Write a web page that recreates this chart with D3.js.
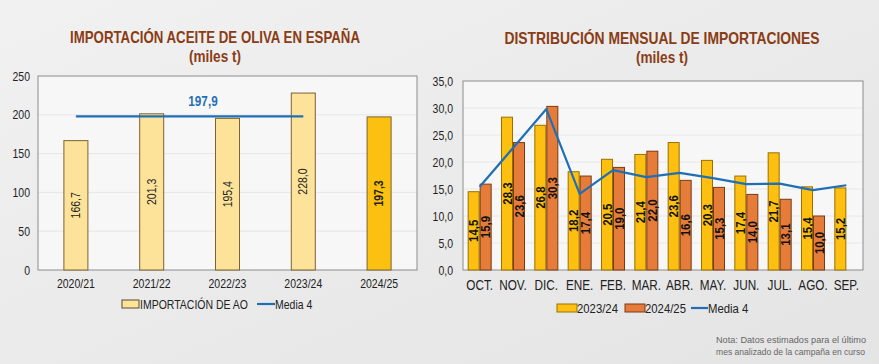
<!DOCTYPE html>
<html>
<head>
<meta charset="utf-8">
<script src="https://cdn.jsdelivr.net/npm/d3@7"></script>
<style>
  body { margin: 0; background: #ececec; }
  svg { display: block; }
  text { font-family: "Liberation Sans", Arial, sans-serif; }
</style>
</head>
<body>
<svg id="chart" width="879" height="364"></svg>
<script>
// annual imports (miles t)
var campaigns = ["2020/21", "2021/22", "2022/23", "2023/24", "2024/25"];
var annualValues = [166.7, 201.3, 195.4, 228.0, 197.3];
var annualMean = 197.9;

// monthly distribution
var months = ["OCT.", "NOV.", "DIC.", "ENE.", "FEB.", "MAR.", "ABR.", "MAY.", "JUN.", "JUL.", "AGO.", "SEP."];
var imp2324 = [14.5, 28.3, 26.8, 18.2, 20.5, 21.4, 23.6, 20.3, 17.4, 21.7, 15.4, 15.2];
var imp2425 = [15.9, 23.6, 30.3, 17.4, 19.0, 22.0, 16.6, 15.3, 14.0, 13.1, 10.0];
var media4 = [15.4, 22.6, 29.8, 14.1, 18.5, 17.2, 18.0, 17.0, 15.9, 16.0, 14.8, 15.7];

var fmt = function (v) { return d3.format(".1f")(v).replace(".", ","); };

var SX = 0.84; // horizontal squeeze to mimic a narrow font

var svg = d3.select("#chart");

// soft background
var defs = svg.append("defs");
var grad = defs.append("linearGradient").attr("id", "bg").attr("x1", 0).attr("y1", 0).attr("x2", 1).attr("y2", 1);
grad.append("stop").attr("offset", "0%").attr("stop-color", "#f1f1f1");
grad.append("stop").attr("offset", "100%").attr("stop-color", "#e4e4e4");
svg.append("rect").attr("width", 879).attr("height", 364).attr("fill", "url(#bg)");

var titleColor = "#8a3c14";
var blue = "#1f6fb6";

// narrow text helper
function label(g, x, y, str, size, anchor, extra) {
    var t = g.append("text")
        .attr("transform", "translate(" + x + "," + y + ") scale(" + SX + ",1)")
        .attr("text-anchor", anchor || "start")
        .attr("font-size", size)
        .attr("fill", "#222")
        .text(str);
    if (extra) extra(t);
    return t;
}

function squeezeTicks(axisG, size) {
    axisG.selectAll(".tick text")
        .attr("font-size", size).attr("fill", "#222")
        .style("font-family", "'Liberation Sans', Arial, sans-serif")
        .each(function () {
            var t = d3.select(this);
            var x = +t.attr("x") || 0;
            t.attr("x", x / SX).attr("transform", "scale(" + SX + ",1)");
        });
}

function title(x, y, str, len) {
    svg.append("text").attr("x", x).attr("y", y).attr("text-anchor", "middle")
        .attr("font-size", 16.5).attr("font-weight", "bold").attr("fill", titleColor)
        .attr("textLength", len).attr("lengthAdjust", "spacingAndGlyphs")
        .text(str);
}

// ---------- LEFT CHART ----------
var xL = d3.scaleBand().domain(campaigns).range([38, 417]);
var yL = d3.scaleLinear().domain([0, 250]).range([270, 76]);

title(215, 43, "IMPORTACIÓN ACEITE DE OLIVA EN ESPAÑA", 290);
title(215, 62, "(miles t)", 52);

var left = svg.append("g");

left.append("rect").attr("x", 38).attr("y", 76).attr("width", 379).attr("height", 194)
    .attr("fill", "#f7f7f7");

left.append("g").selectAll("line").data(yL.ticks(5).slice(1, -1)).join("line")
    .attr("x1", 38).attr("x2", 417)
    .attr("y1", function (d) { return yL(d); }).attr("y2", function (d) { return yL(d); })
    .attr("stroke", "#e6e6e6").attr("stroke-width", 1);

left.append("rect").attr("x", 38).attr("y", 76).attr("width", 379).attr("height", 194)
    .attr("fill", "none").attr("stroke", "#8c8c8c").attr("stroke-width", 1);

var leftBarW = 24;
left.append("g").selectAll("rect").data(annualValues).join("rect")
    .attr("x", function (d, i) { return xL(campaigns[i]) + xL.bandwidth() / 2 - leftBarW / 2; })
    .attr("y", function (d) { return yL(d); })
    .attr("width", leftBarW)
    .attr("height", function (d) { return yL(0) - yL(d); })
    .attr("fill", function (d, i) { return i == campaigns.length - 1 ? "#fcc010" : "#fde39a"; })
    .attr("stroke", "#7d6232").attr("stroke-width", 1);

left.append("g").selectAll("text").data(annualValues).join("text")
    .attr("transform", function (d, i) {
        var cx = xL(campaigns[i]) + xL.bandwidth() / 2;
        var cy = (yL(d) + yL(0)) / 2;
        return "translate(" + (cx + 4) + "," + cy + ") rotate(-90) scale(" + SX + ",1)";
    })
    .attr("text-anchor", "middle")
    .attr("font-size", 12.5)
    .attr("font-weight", function (d, i) { return i == campaigns.length - 1 ? "bold" : "normal"; })
    .attr("fill", "#222")
    .text(fmt);

// mean of the four previous campaigns
left.append("line")
    .attr("x1", xL(campaigns[0]) + xL.bandwidth() / 2).attr("x2", xL(campaigns[3]) + xL.bandwidth() / 2)
    .attr("y1", yL(annualMean)).attr("y2", yL(annualMean))
    .attr("stroke", blue).attr("stroke-width", 2.2);
label(left, 203, yL(annualMean) - 10, fmt(annualMean), 14, "middle", function (t) {
    t.attr("font-weight", "bold").attr("fill", blue);
});

var yAxisL = left.append("g").attr("transform", "translate(38,0)")
    .call(d3.axisLeft(yL).tickValues([0, 50, 100, 150, 200, 250]).tickSize(0).tickPadding(8));
yAxisL.select(".domain").remove();
squeezeTicks(yAxisL, 12.5);

var xAxisL = left.append("g").attr("transform", "translate(0,270)")
    .call(d3.axisBottom(xL).tickSize(0).tickPadding(9));
xAxisL.select(".domain").remove();
squeezeTicks(xAxisL, 12.5);

// left legend
left.append("rect").attr("x", 122).attr("y", 300).attr("width", 17).attr("height", 8)
    .attr("fill", "#fde39a").attr("stroke", "#5a4a2a");
label(left, 140, 309, "IMPORTACIÓN DE AO", 12.5);
left.append("line").attr("x1", 257).attr("x2", 275).attr("y1", 304).attr("y2", 304)
    .attr("stroke", blue).attr("stroke-width", 2.2);
label(left, 275, 309, "Media 4", 12.5);

// ---------- RIGHT CHART ----------
var xR = d3.scaleBand().domain(months).range([463, 863]);
var yR = d3.scaleLinear().domain([0, 35]).range([270, 81]);

title(662, 44, "DISTRIBUCIÓN MENSUAL DE IMPORTACIONES", 315);
title(662, 63, "(miles t)", 52);

var right = svg.append("g");

right.append("rect").attr("x", 463).attr("y", 81).attr("width", 400).attr("height", 189)
    .attr("fill", "#f7f7f7");
right.append("g").selectAll("line").data(d3.range(5, 35, 5)).join("line")
    .attr("x1", 463).attr("x2", 863)
    .attr("y1", function (d) { return yR(d); }).attr("y2", function (d) { return yR(d); })
    .attr("stroke", "#e8e8e8");
right.append("rect").attr("x", 463).attr("y", 81).attr("width", 400).attr("height", 189)
    .attr("fill", "none").attr("stroke", "#8c8c8c");

var barW = 11;
var series = [
    { name: "2023/24", values: imp2324, fill: "#fdc010", stroke: "#9a7000", off: -barW - 0.5 },
    { name: "2024/25", values: imp2425, fill: "#e67c3a", stroke: "#7a3a14", off: 0.5 }
];

series.forEach(function (s) {
    var g = right.append("g");
    g.selectAll("rect").data(s.values).join("rect")
        .attr("x", function (d, i) { return xR(months[i]) + xR.bandwidth() / 2 + s.off; })
        .attr("y", function (d) { return yR(d); })
        .attr("width", barW)
        .attr("height", function (d) { return yR(0) - yR(d); })
        .attr("fill", s.fill).attr("stroke", s.stroke).attr("stroke-width", 1);
    g.selectAll("text").data(s.values).join("text")
        .attr("transform", function (d, i) {
            var cx = xR(months[i]) + xR.bandwidth() / 2 + s.off + barW / 2 + 4.5;
            var cy = (yR(d) + yR(0)) / 2;
            return "translate(" + cx + "," + cy + ") rotate(-90) scale(0.88,1)";
        })
        .attr("text-anchor", "middle")
        .attr("font-size", 13).attr("font-weight", "bold").attr("fill", "#111")
        .text(fmt);
});

var line = d3.line()
    .x(function (d, i) { return xR(months[i]) + xR.bandwidth() / 2; })
    .y(function (d) { return yR(d); });
right.append("path").datum(media4).attr("d", line)
    .attr("fill", "none").attr("stroke", blue).attr("stroke-width", 2.2)
    .attr("stroke-linejoin", "round");

var yAxisR = right.append("g").attr("transform", "translate(463,0)")
    .call(d3.axisLeft(yR).tickValues(d3.range(0, 36, 5)).tickFormat(fmt).tickSize(0).tickPadding(10));
yAxisR.select(".domain").remove();
squeezeTicks(yAxisR, 12.5);

var xAxisR = right.append("g").attr("transform", "translate(0,270)")
    .call(d3.axisBottom(xR).tickSize(0).tickPadding(10));
xAxisR.select(".domain").remove();
squeezeTicks(xAxisR, 14);

// right legend
right.append("rect").attr("x", 557).attr("y", 304).attr("width", 20).attr("height", 8)
    .attr("fill", "#fdc010").attr("stroke", "#9a7000");
label(right, 577, 313, "2023/24", 13.5);
right.append("rect").attr("x", 625).attr("y", 304).attr("width", 20).attr("height", 8)
    .attr("fill", "#e67c3a").attr("stroke", "#7a3a14");
label(right, 645, 313, "2024/25", 13.5);
right.append("line").attr("x1", 691).attr("x2", 708).attr("y1", 308).attr("y2", 308)
    .attr("stroke", blue).attr("stroke-width", 2.2);
label(right, 708, 313, "Media 4", 13.5);

// note
svg.append("text").attr("x", 716).attr("y", 343)
    .attr("font-size", 9).attr("fill", "#666").attr("textLength", 150).attr("lengthAdjust", "spacingAndGlyphs")
    .text("Nota: Datos estimados para el último");
svg.append("text").attr("x", 716).attr("y", 355)
    .attr("font-size", 9).attr("fill", "#666").attr("textLength", 149).attr("lengthAdjust", "spacingAndGlyphs")
    .text("mes analizado de la campaña en curso");
</script>
</body>
</html>
